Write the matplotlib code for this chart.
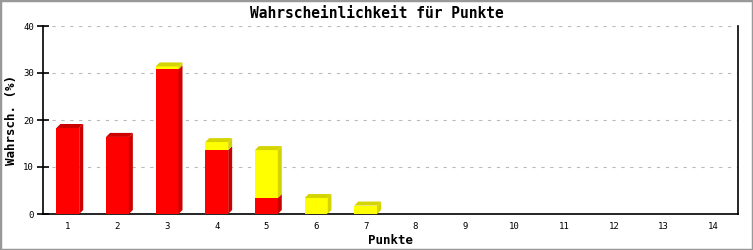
import numpy as np
import matplotlib.pyplot as plt
from matplotlib.patches import Polygon, Rectangle

# Punkte und Wahrscheinlichkeiten (%)
punkte = np.arange(1, 15)
rot = [18.3, 16.4, 30.8, 13.6, 3.4, 0, 0, 0, 0, 0, 0, 0, 0, 0]
gelb = [0, 0, 0.6, 1.7, 10.2, 3.4, 1.8, 0, 0, 0, 0, 0, 0, 0]

fig = plt.figure(figsize=(7.53, 2.5), dpi=100)
ax = fig.add_axes([43/753, 36/250, 695/753, 188/250])

font = "DejaVu Sans Mono"
w = 0.46   # bar width
dx = 0.08  # depth in x
dy = 0.85  # depth in y


def bar3d(x, y0, h, front, dark, top_dark=True):
    x0 = x - w / 2
    x1 = x + w / 2
    ax.add_patch(Rectangle((x0, y0), w, h, facecolor=front, edgecolor="none", zorder=3))
    # side face
    ax.add_patch(Polygon([(x1, y0), (x1 + dx, y0 + dy), (x1 + dx, y0 + h + dy), (x1, y0 + h)],
                         facecolor=dark, edgecolor="none", zorder=3))
    if top_dark:
        ax.add_patch(Polygon([(x0, y0 + h), (x0 + dx, y0 + h + dy), (x1 + dx, y0 + h + dy), (x1, y0 + h)],
                             facecolor=dark, edgecolor="none", zorder=3))


for p, r, g in zip(punkte, rot, gelb):
    if r > 0:
        bar3d(p, 0, r, "#ff0000", "#cc0000", top_dark=(g == 0))
    if g > 0:
        bar3d(p, r, g, "#ffff00", "#d4d400")

ax.set_xlim(0.5, 14.5)
ax.set_ylim(0, 40)
ax.set_yticks([0, 10, 20, 30, 40])
ax.set_xticks(punkte)
ax.yaxis.grid(True, color="#bbbbbb", linestyle=(0, (3, 5)), linewidth=0.8)
ax.set_axisbelow(True)
ax.spines["top"].set_visible(False)
ax.spines["left"].set_linewidth(1.2)
ax.spines["bottom"].set_linewidth(1.2)
ax.spines["right"].set_linewidth(1.2)
ax.tick_params(axis="y", direction="inout", length=9, width=1.2, labelsize=6.5, pad=2)
ax.tick_params(axis="x", length=0, labelsize=6.5, pad=6)
for lbl in ax.get_xticklabels() + ax.get_yticklabels():
    lbl.set_family(font)

fig.text(0.5, 1 - 13/250, "Wahrscheinlichkeit für Punkte", family=font, fontweight="bold",
         fontsize=10.5, ha="center", va="center")
ax.set_xlabel("Punkte", family=font, fontweight="bold", fontsize=9, labelpad=2)
ax.set_ylabel("Wahrsch. (%)", family=font, fontweight="bold", fontsize=9, labelpad=4)

fig.patches.append(Rectangle((0, 0), 1, 1, transform=fig.transFigure, fill=False,
                             edgecolor="#999999", linewidth=2.5))

fig.savefig("out.png", dpi=100)
